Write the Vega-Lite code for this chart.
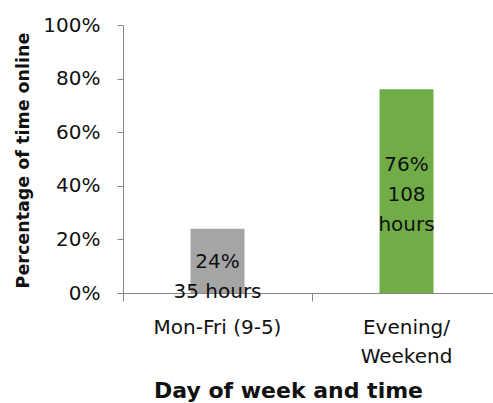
{
  "$schema": "https://vega.github.io/schema/vega-lite/v6.json",
  "autosize": {"type": "none"},
  "padding": {"left": 123, "top": 25, "right": 0, "bottom": 110},
  "width": 378,
  "height": 268,
  "background": "white",
  "config": {"view": {"stroke": null}, "font": "DejaVu Sans"},
  "data": {"values": [
    {"period": "Mon-Fri (9-5)", "share": 0.24, "label": ["24%", "35 hours"]},
    {"period": "Evening/ Weekend", "share": 0.76, "label": ["76%", "108", "hours"]}
  ]},
  "encoding": {
    "x": {"field": "period", "type": "nominal", "sort": null,
      "scale": {"paddingInner": 0, "paddingOuter": 0},
      "axis": {"title": "Day of week and time", "labelAngle": 0, "bandPosition": 0,
        "domainColor": "#868686", "tickColor": "#868686", "tickSize": 8,
        "labelFontSize": 20, "labelColor": "#111", "labelPadding": 16, "labelLineHeight": 29, "labelBaseline": "top",
        "labelExpr": "datum.label == 'Evening/ Weekend' ? ['Evening/', 'Weekend'] : datum.label",
        "titleFontSize": 22, "titleFontWeight": "bold", "titleColor": "#111",
        "titleX": 165, "titleY": 104, "titleBaseline": "alphabetic", "titleAlign": "center"}},
    "y": {"field": "share", "type": "quantitative",
      "scale": {"domain": [0, 1], "nice": false},
      "axis": {"title": "Percentage of time online", "format": ".0%", "values": [0, 0.2, 0.4, 0.6, 0.8, 1],
        "grid": false, "domainColor": "#868686", "tickColor": "#868686", "tickSize": 6,
        "labelFontSize": 20, "labelColor": "#111", "labelPadding": 17,
        "titleFontSize": 17.5, "titleFontWeight": "bold", "titleColor": "#111",
        "titleX": -100, "titleY": 135, "titleBaseline": "middle", "titleAlign": "center", "titleAngle": -90}}
  },
  "layer": [
    {"mark": {"type": "bar", "size": 54},
      "encoding": {"color": {"field": "period", "type": "nominal", "legend": null,
        "scale": {"domain": ["Mon-Fri (9-5)", "Evening/ Weekend"], "range": ["#A5A5A5", "#70AD47"]}}}},
    {"transform": [{"filter": "datum.period == 'Mon-Fri (9-5)'"}],
      "mark": {"type": "text", "baseline": "middle", "dy": 33, "fontSize": 20, "lineHeight": 30, "color": "#111"},
      "encoding": {"text": {"field": "label"}}},
    {"transform": [{"filter": "datum.period == 'Evening/ Weekend'"}],
      "mark": {"type": "text", "baseline": "middle", "dy": 76, "fontSize": 20, "lineHeight": 30, "color": "#111"},
      "encoding": {"text": {"field": "label"}}}
  ]
}
